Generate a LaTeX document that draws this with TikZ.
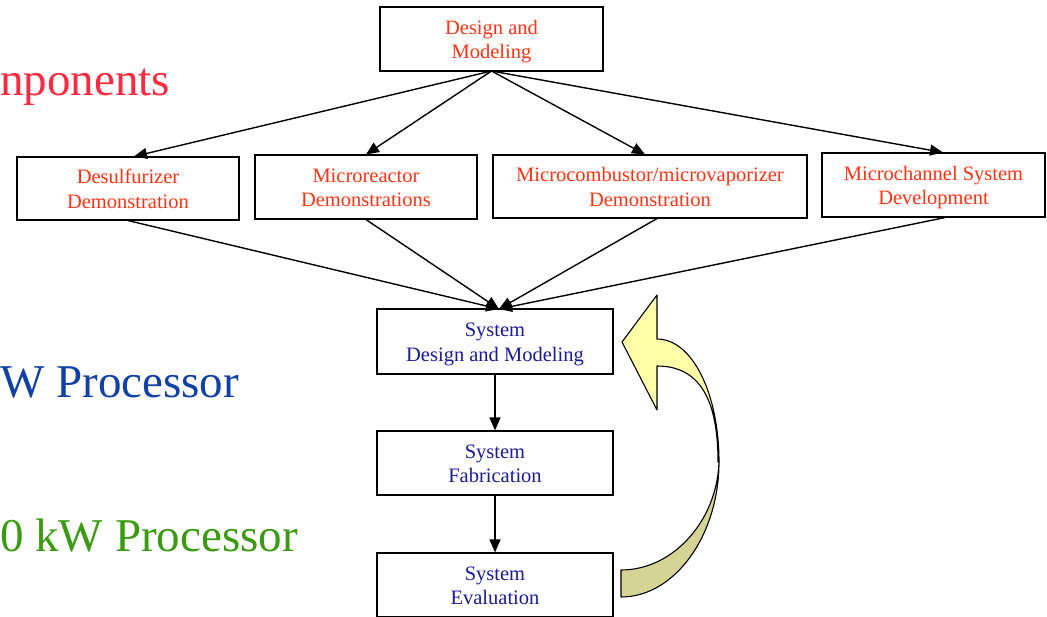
\documentclass[tikz,border=0pt]{standalone}
\usepackage{fontspec}
\setmainfont{Liberation Serif}
\newfontfamily\tnr{Liberation Serif}
\usetikzlibrary{arrows.meta}
\definecolor{boxred}{HTML}{FF3311}
\definecolor{boxblue}{HTML}{1A1A9A}
\definecolor{bigred}{HTML}{FF2A40}
\definecolor{bigblue}{HTML}{1040A8}
\definecolor{biggreen}{HTML}{3A9A10}
\definecolor{arrowyellow}{HTML}{FFFFAA}
\definecolor{arrowolive}{HTML}{D6D494}
\newcommand{\boxlines}[1]{\raisebox{-2.5pt}[\height][\depth]{\begin{tabular}{@{}c@{}}#1\end{tabular}}}
\tikzset{
  boxnode/.style={draw=black, line width=1.1pt, inner sep=0pt, align=center,
    font=\tnr\fontsize{20.5}{24.5}\selectfont},
  redbox/.style={boxnode, text=boxred},
  bluebox/.style={boxnode, text=boxblue},
  conn/.style={line width=1.4pt, -{Triangle[length=13pt,width=11pt]}},
  bigtext/.style={anchor=base west, inner sep=0pt, font=\tnr\fontsize{47}{50}\selectfont},
}
\begin{document}
\begin{tikzpicture}[x=1pt,y=-1pt]
\useasboundingbox (0,0) rectangle (1047,616);

% big side texts
\node[bigtext, text=bigred] (t1) at (0,95) {nponents};
\node[bigtext, text=bigblue] (t2) at (0,397) {W Processor};
\node[bigtext, text=biggreen] (t3) at (0,551) {0 kW Processor};

% boxes
\node[redbox, minimum width=223pt, minimum height=64pt] (top) at (491.5,39) {\boxlines{Design and\\Modeling}};
\node[redbox, minimum width=222pt, minimum height=63pt] (desul) at (128,188.5) {\boxlines{Desulfurizer\\Demonstration}};
\node[redbox, minimum width=222pt, minimum height=64pt] (micro) at (366,187) {\boxlines{Microreactor\\Demonstrations}};
\node[redbox, minimum width=314pt, minimum height=63pt] (comb) at (650,186.5) {\boxlines{Microcombustor/microvaporizer\\Demonstration}};
\node[redbox, minimum width=223pt, minimum height=64pt] (chan) at (933.5,185) {\boxlines{Microchannel System\\Development}};

\node[bluebox, minimum width=236pt, minimum height=65pt] (sdm) at (495,341.5) {\boxlines{System\\Design and Modeling}};
\node[bluebox, minimum width=236pt, minimum height=64pt] (sfab) at (495,463) {\boxlines{System\\Fabrication}};
\node[bluebox, minimum width=236pt, minimum height=64pt] (seval) at (495,585) {\boxlines{System\\Evaluation}};

% connectors from top box
\coordinate (topout) at (491.5,71);
\draw[conn] (topout) -- (desul.north -| 134,0);
\draw[conn] (topout) -- (micro.north);
\draw[conn] (topout) -- (comb.north -| 645,0);
\draw[conn] (topout) -- (chan.north -| 943,0);

% connectors to system design
\coordinate (sin) at (499,309);
\draw[conn] (desul.south) -- (sin);
\draw[conn] (micro.south) -- (sin);
\draw[conn] (comb.south -| 657,0) -- (sin);
\draw[conn] (chan.south -| 945,0) -- (sin);

\draw[conn] (sdm.south) -- (sfab.north);
\draw[conn] (sfab.south) -- (seval.north);

% curved block arrow
\draw[line width=1.1pt, fill=arrowolive, line join=round]
  (621,570) -- (621,597)
  .. controls (675,597) and (719,535) .. (719,462)
  .. controls (717,521) and (673,570) .. (621,570) -- cycle;
\draw[line width=1.1pt, fill=arrowyellow, line join=round]
  (718,462)
  .. controls (718,400) and (700,366) .. (657,366)
  -- (657,410) -- (622,342) -- (657,295) -- (657,339)
  .. controls (692,339) and (719,393) .. (719,462) -- cycle;
\end{tikzpicture}
\end{document}
